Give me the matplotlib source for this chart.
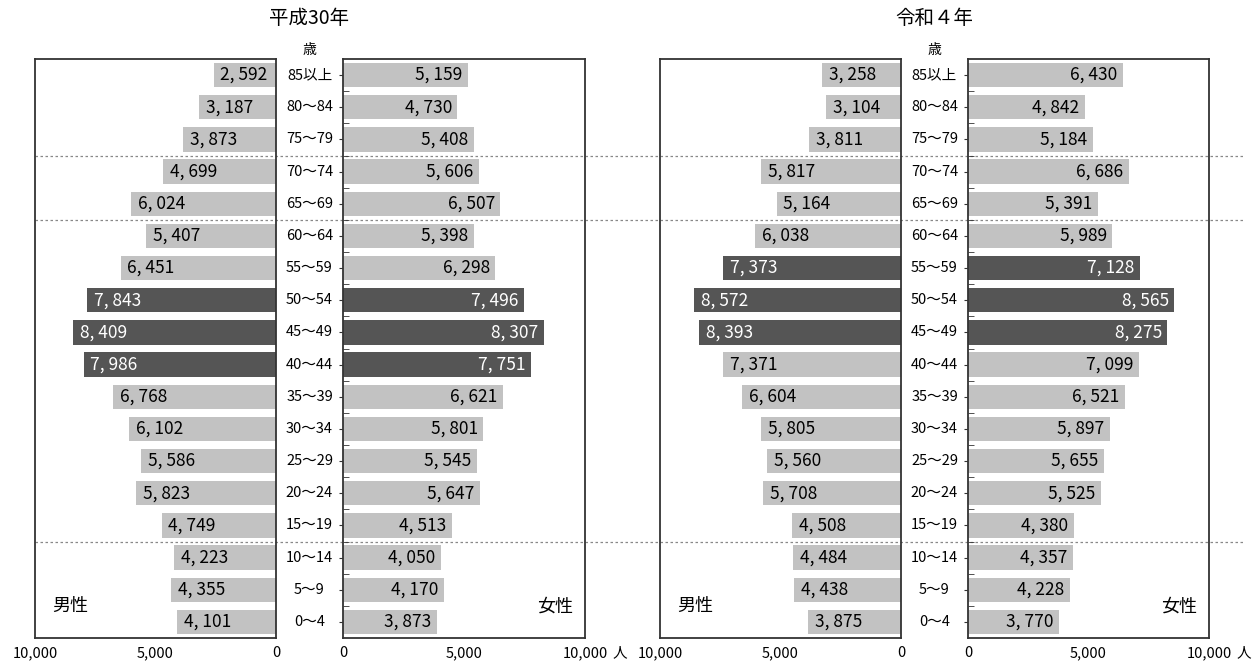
import matplotlib
matplotlib.use("Agg")
import matplotlib.pyplot as plt
from matplotlib.transforms import blended_transform_factory

plt.rcParams['font.family'] = ['Noto Sans CJK JP', 'DejaVu Sans']

ages = ["85以上", "80～84", "75～79", "70～74", "65～69", "60～64", "55～59",
        "50～54", "45～49", "40～44", "35～39", "30～34", "25～29", "20～24",
        "15～19", "10～14", "5～9", "0～4"]

h30_male = [2592, 3187, 3873, 4699, 6024, 5407, 6451, 7843, 8409, 7986,
            6768, 6102, 5586, 5823, 4749, 4223, 4355, 4101]
h30_female = [5159, 4730, 5408, 5606, 6507, 5398, 6298, 7496, 8307, 7751,
              6621, 5801, 5545, 5647, 4513, 4050, 4170, 3873]
r4_male = [3258, 3104, 3811, 5817, 5164, 6038, 7373, 8572, 8393, 7371,
           6604, 5805, 5560, 5708, 4508, 4484, 4438, 3875]
r4_female = [6430, 4842, 5184, 6686, 5391, 5989, 7128, 8565, 8275, 7099,
             6521, 5897, 5655, 5525, 4380, 4357, 4228, 3770]

titles = ["平成30年", "令和４年"]
# boundaries drawn as dashed lines (between age groups)
dash_rows = [2.5, 4.5, 14.5]

W, H = 1258, 663
LIGHT = "#c2c2c2"
DARK = "#555555"
EDGE = "#333333"

fig = plt.figure(figsize=(W / 100, H / 100), dpi=100)


def px_axes(x0, x1, y_top=59, y_bot=638):
    ax = fig.add_axes([x0 / W, (H - y_bot) / H, (x1 - x0) / W, (y_bot - y_top) / H])
    ax.set_facecolor("none")
    return ax


def fmt(v):
    return f"{v:,}".replace(",", ", ")


def draw_side(ax, values, male):
    y = list(range(len(values)))
    top3 = sorted(values, reverse=True)[:3]
    colors = [DARK if v in top3 else LIGHT for v in values]
    ax.barh(y, values, height=0.76, color=colors, zorder=2)
    ax.set_ylim(17.5, -0.5)
    if male:
        ax.set_xlim(10000, 0)
        ax.set_xticks([10000, 5000, 0])
        ax.set_xticklabels(["10,000", "5,000", "0"])
        ax.set_yticks([])
    else:
        ax.set_xlim(0, 10000)
        ax.set_xticks([0, 5000, 10000])
        ax.set_xticklabels(["0", "5,000", "10,000"])
        ax.set_yticks(y)
        ax.set_yticklabels([])
        ax.set_yticks([i + 0.5 for i in y[:-1]], minor=True)
        ax.tick_params(axis="y", which="major", direction="out", length=3, color=EDGE)
        ax.tick_params(axis="y", which="minor", direction="in", length=4, color=EDGE)
    ax.tick_params(axis="x", length=0, labelsize=10.5, pad=6)
    for s in ax.spines.values():
        s.set_color(EDGE)
        s.set_linewidth(1.3)
    for i, v in enumerate(values):
        tc = "white" if v in top3 else "black"
        if male:
            ax.annotate(fmt(v), (v, i), xytext=(5, 0), textcoords="offset points",
                        ha="left", va="center", fontsize=12.5, color=tc, zorder=3)
        else:
            ax.annotate(fmt(v), (v, i), xytext=(-4, 0), textcoords="offset points",
                        ha="right", va="center", fontsize=12.5, color=tc, zorder=3)


panels = [
    (h30_male, h30_female, (35, 276), (343, 585)),
    (r4_male, r4_female, (660, 901), (968, 1209)),
]

for k, (m, f, (mx0, mx1), (fx0, fx1)) in enumerate(panels):
    axm = px_axes(mx0, mx1)
    axf = px_axes(fx0, fx1)
    draw_side(axm, m, True)
    draw_side(axf, f, False)

    mid = (mx1 + fx0) / 2 / W
    tr = blended_transform_factory(fig.transFigure, axm.transData)
    for i, a in enumerate(ages):
        axm.text(mid, i, a, transform=tr, ha="center", va="center",
                 fontsize=10.5, clip_on=False)
    fig.text(mid, (H - 50) / H, "歳", ha="center", va="center", fontsize=10)
    fig.text(mid, (H - 18) / H, titles[k], ha="center", va="center", fontsize=14)

    axm.text(0.07, 0.055, "男性", transform=axm.transAxes, ha="left", va="center", fontsize=13)
    axf.text(0.95, 0.055, "女性", transform=axf.transAxes, ha="right", va="center", fontsize=13)
    axf.annotate("人", xy=(1, 0), xycoords="axes fraction", xytext=(25, -11),
                 textcoords="offset points", ha="center", va="center", fontsize=10.5)

    if k == 0:
        for r in dash_rows:
            axm.plot([35 / W, 1245 / W], [r, r], transform=tr, color="#888888",
                     linestyle=(0, (2, 2)), linewidth=0.9, clip_on=False, zorder=1)

fig.savefig("out.png", dpi=100)
